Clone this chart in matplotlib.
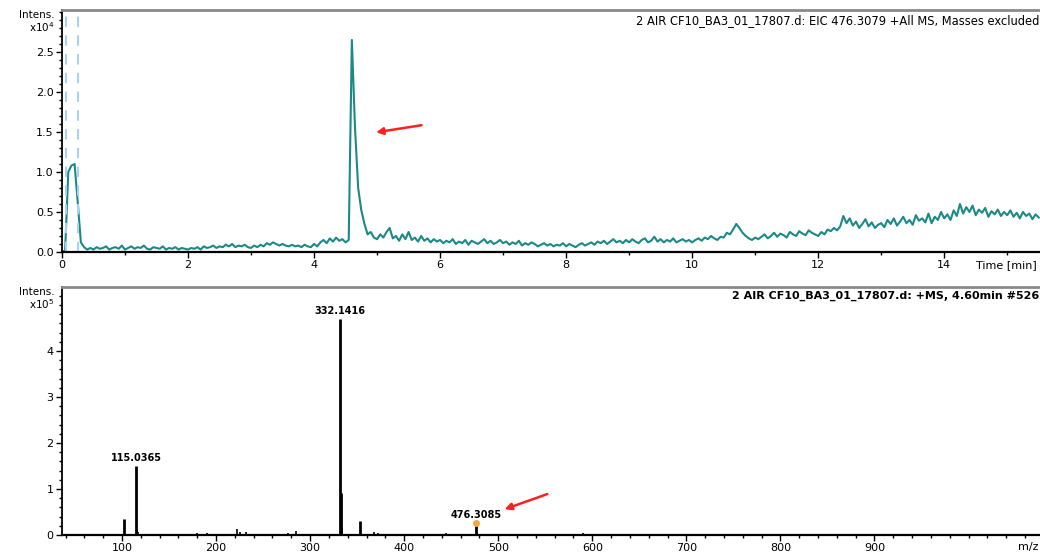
import numpy as np
import matplotlib
matplotlib.use("Agg")
import matplotlib.pyplot as plt
from matplotlib.ticker import MultipleLocator

plt.rcParams['font.family'] = ['DejaVu Sans']

# ---- chromatogram: EIC 476.3079, one value every 0.05 min (x10^4) ----
scan_step = 0.05
eic = [
    0.00, 0.02, 1.00, 1.08, 1.10, 0.62, 0.12, 0.06, 0.03, 0.05, 0.03, 0.06, 0.04, 0.05, 0.07, 0.03, 0.05, 0.06, 0.04, 0.08,
    0.03, 0.05, 0.07, 0.04, 0.06, 0.05, 0.08, 0.04, 0.03, 0.06, 0.05, 0.04, 0.07, 0.03, 0.05, 0.04, 0.06, 0.03, 0.05, 0.04,
    0.03, 0.05, 0.04, 0.06, 0.03, 0.07, 0.05, 0.06, 0.08, 0.05, 0.07, 0.06, 0.09, 0.07, 0.10, 0.06, 0.08, 0.07, 0.09, 0.06,
    0.05, 0.08, 0.06, 0.09, 0.07, 0.11, 0.09, 0.12, 0.10, 0.08, 0.10, 0.08, 0.07, 0.09, 0.07, 0.08, 0.06, 0.09, 0.07, 0.06,
    0.10, 0.07, 0.12, 0.15, 0.11, 0.17, 0.13, 0.18, 0.14, 0.16, 0.12, 0.15, 2.65, 1.55, 0.80, 0.52, 0.35, 0.22, 0.25, 0.18,
    0.16, 0.22, 0.18, 0.25, 0.30, 0.17, 0.20, 0.14, 0.22, 0.16, 0.25, 0.15, 0.18, 0.13, 0.20, 0.14, 0.17, 0.12, 0.16, 0.13,
    0.15, 0.11, 0.14, 0.12, 0.16, 0.10, 0.13, 0.11, 0.15, 0.09, 0.14, 0.12, 0.10, 0.13, 0.16, 0.11, 0.14, 0.10, 0.12, 0.15,
    0.11, 0.13, 0.09, 0.12, 0.10, 0.14, 0.08, 0.11, 0.09, 0.12, 0.10, 0.07, 0.09, 0.11, 0.08, 0.10, 0.07, 0.09, 0.08, 0.11,
    0.07, 0.10, 0.08, 0.06, 0.09, 0.11, 0.08, 0.10, 0.12, 0.09, 0.13, 0.11, 0.14, 0.10, 0.13, 0.16, 0.12, 0.14, 0.11, 0.15,
    0.12, 0.16, 0.13, 0.11, 0.15, 0.17, 0.12, 0.14, 0.19, 0.13, 0.16, 0.12, 0.15, 0.13, 0.17, 0.12, 0.14, 0.16, 0.13, 0.15,
    0.12, 0.15, 0.17, 0.14, 0.18, 0.16, 0.20, 0.17, 0.15, 0.19, 0.18, 0.24, 0.22, 0.28, 0.35, 0.30, 0.24, 0.20, 0.17, 0.15,
    0.18, 0.16, 0.19, 0.22, 0.17, 0.20, 0.24, 0.19, 0.23, 0.21, 0.18, 0.25, 0.22, 0.20, 0.26, 0.23, 0.21, 0.27, 0.24, 0.22,
    0.20, 0.25, 0.22, 0.28, 0.26, 0.30, 0.27, 0.32, 0.45, 0.36, 0.42, 0.33, 0.38, 0.30, 0.35, 0.41, 0.32, 0.37, 0.30, 0.34,
    0.36, 0.31, 0.40, 0.35, 0.42, 0.33, 0.38, 0.44, 0.36, 0.40, 0.34, 0.46, 0.39, 0.42, 0.37, 0.48, 0.36, 0.44, 0.40, 0.50,
    0.42, 0.47, 0.40, 0.52, 0.45, 0.60, 0.48, 0.56, 0.50, 0.58, 0.46, 0.53, 0.49, 0.55, 0.44, 0.51, 0.47, 0.53, 0.45, 0.50,
    0.46, 0.52, 0.44, 0.49, 0.42, 0.50, 0.45, 0.48, 0.41, 0.47, 0.43,
]
eic_time = np.arange(len(eic)) * scan_step
window_marks = [0.06, 0.26]  # dashed markers at start of run

# ---- mass spectrum at 4.60 min (x10^5) ----
mz = [60, 75, 88, 95, 102.0, 105, 115.0365, 116.0, 117.0, 125, 140, 160, 180, 190, 195, 205,
      222.0, 225, 232, 245, 260, 276, 285, 290, 300, 332.1416, 333.1, 334.1, 353.1, 360,
      368, 372, 390, 410, 430, 445, 476.3085, 477.3, 540, 590, 600]
ms_int = [0.02, 0.02, 0.02, 0.03, 0.35, 0.03, 1.50, 0.10, 0.07, 0.03, 0.02, 0.02, 0.04, 0.05, 0.03, 0.03,
          0.12, 0.06, 0.07, 0.02, 0.02, 0.05, 0.08, 0.03, 0.02, 4.70, 0.92, 0.15, 0.30, 0.03,
          0.06, 0.05, 0.03, 0.02, 0.02, 0.04, 0.26, 0.04, 0.02, 0.05, 0.02]
labelled = [115.0365, 332.1416, 476.3085]

teal = "#1b8a87"
fs = 8

fig = plt.figure(figsize=(10.4, 5.55), dpi=100)
ax1 = fig.add_axes([0.0596, 0.546, 0.9404, 0.436])
ax2 = fig.add_axes([0.0596, 0.036, 0.9404, 0.447])


def style(ax):
    ax.spines['right'].set_visible(False)
    ax.spines['top'].set_color('#8a8a8a')
    ax.spines['top'].set_linewidth(2)
    ax.spines['left'].set_linewidth(1.3)
    ax.spines['bottom'].set_linewidth(1.6)
    ax.tick_params(which='major', direction='out', length=4, width=1, labelsize=fs, pad=2)
    ax.tick_params(which='minor', direction='out', length=2.5, width=1)


# chromatogram
ax1.plot(eic_time, eic, color=teal, lw=1.5)
for t in window_marks:
    ax1.axvline(t, color='#a9d1f5', lw=1.5, ls=(0, (5, 4)))
ax1.set_xlim(0, 15.52)
ax1.set_ylim(0, 3.025)
ax1.xaxis.set_minor_locator(MultipleLocator(1))
ax1.yaxis.set_minor_locator(MultipleLocator(0.1))
ax1.set_xticks(np.arange(0, 15, 2))
ax1.set_xticklabels([str(v) for v in range(0, 15, 2)])
ax1.set_yticks([0.0, 0.5, 1.0, 1.5, 2.0, 2.5])
ax1.set_yticklabels(['0.0', '0.5', '1.0', '1.5', '2.0', '2.5'])
style(ax1)
ax1.text(0.999, 0.985, "2 AIR CF10_BA3_01_17807.d: EIC 476.3079 +All MS, Masses excluded",
         transform=ax1.transAxes, ha='right', va='top', fontsize=8.3)
ax1.text(-0.008, 1.0, "Intens.\nx10$^4$", transform=ax1.transAxes, ha='right', va='top',
         fontsize=7.5, linespacing=1.05)
ax1.text(0.997, -0.035, "Time [min]", transform=ax1.transAxes, ha='right', va='top', fontsize=fs)
ax1.annotate("", xy=(4.94, 1.49), xytext=(5.75, 1.59),
             arrowprops=dict(arrowstyle='-|>', color='#ff2020', lw=1.8, mutation_scale=10))

# mass spectrum
for m, v in zip(mz, ms_int):
    ax2.vlines(m, 0, v, color='black', lw=2 if v > 0.2 else 1.2)
for m in labelled:
    v = ms_int[mz.index(m)]
    ax2.text(m, v + 0.06, f"{m:.4f}", ha='center', va='bottom', fontsize=7,
             fontweight='bold')
ax2.plot([476.3085], [ms_int[mz.index(476.3085)]], marker='o', ms=4, color='#f0a848')
ax2.set_xlim(36.2, 1076)
ax2.set_ylim(0, 5.39)
ax2.xaxis.set_minor_locator(MultipleLocator(20))
ax2.yaxis.set_minor_locator(MultipleLocator(0.2))
ax2.set_xticks(np.arange(100, 1000, 100))
ax2.set_yticks([0, 1, 2, 3, 4])
style(ax2)
ax2.text(0.999, 0.985, "2 AIR CF10_BA3_01_17807.d: +MS, 4.60min #526",
         transform=ax2.transAxes, ha='right', va='top', fontsize=8, fontweight='bold')
ax2.text(-0.008, 1.0, "Intens.\nx10$^5$", transform=ax2.transAxes, ha='right', va='top',
         fontsize=7.5, linespacing=1.05)
ax2.text(0.998, -0.03, "m/z", transform=ax2.transAxes, ha='right', va='top', fontsize=fs)
ax2.annotate("", xy=(504, 0.54), xytext=(555, 0.91),
             arrowprops=dict(arrowstyle='-|>', color='#ff2020', lw=1.8, mutation_scale=10))

fig.savefig("out.png", dpi=100)
